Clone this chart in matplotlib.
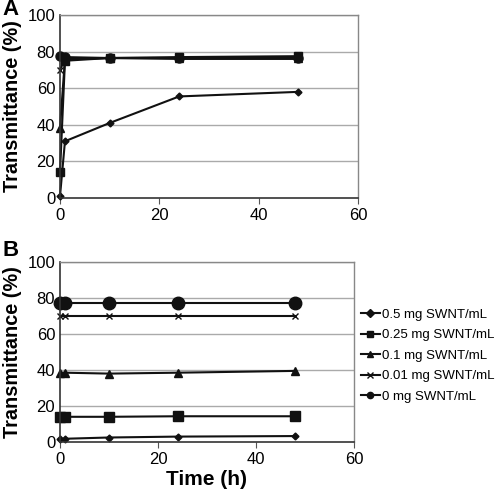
import numpy as np
import matplotlib.pyplot as plt

plt.rcParams['font.family'] = ['Liberation Sans', 'DejaVu Sans']

# %% data
time_h = [0, 1, 10, 24, 48]
labels = ['0.5 mg SWNT/mL', '0.25 mg SWNT/mL', '0.1 mg SWNT/mL',
          '0.01 mg SWNT/mL', '0 mg SWNT/mL']
markers = ['D', 's', '^', 'x', 'o']

# panel A
a_05 = [1, 31, 41, 55.5, 58]
a_025 = [14, 75, 76.5, 77, 77.5]
a_01 = [38.5, 76, 76.5, 76.5, 76.5]
a_001 = [70, 76, 76.5, 76, 76]
a_0 = [77.5, 77, 76.5, 76.5, 76.5]

# panel B
b_05 = [1.5, 1.8, 2.5, 3, 3.3]
b_025 = [14, 14, 14, 14.3, 14.3]
b_01 = [38.5, 38.5, 38, 38.5, 39.5]
b_001 = [70, 70, 70, 70, 70]
b_0 = [77.5, 77.5, 77.5, 77.5, 77.5]

fig = plt.figure(figsize=(5.02, 4.91), dpi=100)
ax_a = fig.add_axes([60/502, 1-198/491, 298/502, 183/491])
ax_b = fig.add_axes([60/502, 1-442/491, 294/502, 180/491])


def style(ax):
    ax.set_xlim(0, 60)
    ax.set_ylim(0, 100)
    ax.set_xticks([0, 20, 40, 60])
    ax.set_yticks([0, 20, 40, 60, 80, 100])
    ax.tick_params(labelsize=12, length=4, direction='out', color='#555555')
    ax.yaxis.set_tick_params(length=0)
    for y in [20, 40, 60, 80, 100]:
        ax.axhline(y, color='#aaaaaa', lw=1, zorder=0)
    for s in ['left', 'bottom']:
        ax.spines[s].set_color('#333333')
        ax.spines[s].set_linewidth(1.2)
    for s in ['top', 'right']:
        ax.spines[s].set_color('#888888')
        ax.spines[s].set_linewidth(1)
    ax.set_ylabel('Transmittance (%)', fontsize=14.3, fontweight='bold', labelpad=4)


sizes_a = [3.5, 6, 6, 5, 6.5]
sizes_b = [3.5, 6.5, 6, 4, 9]
for ax, series, sizes in [(ax_a, [a_05, a_025, a_01, a_001, a_0], sizes_a),
                          (ax_b, [b_05, b_025, b_01, b_001, b_0], sizes_b)]:
    for vals, lab, m, ms in zip(series, labels, markers, sizes):
        ax.plot(time_h, vals, color='#111111', lw=1.5, marker=m, ms=ms,
                mec='#111111', mfc='#111111', mew=1, label=lab, clip_on=False)
    style(ax)

ax_b.set_xlabel('Time (h)', fontsize=15, fontweight='bold', labelpad=2)

fig.text(0.004, 0.98, 'A', fontsize=16, fontweight='bold', va='center')
fig.text(0.004, 0.49, 'B', fontsize=16, fontweight='bold', va='center')

handles, labs = ax_b.get_legend_handles_labels()
leg = ax_b.legend(handles, labs, loc='center left', bbox_to_anchor=(1.0, 0.48),
                  frameon=False, fontsize=9.5, handlelength=1.5,
                  handletextpad=0.15, labelspacing=0.62, borderaxespad=0.1)
for h in leg.legend_handles:
    h.set_markersize(4.5)

fig.savefig('out.png', dpi=100)
